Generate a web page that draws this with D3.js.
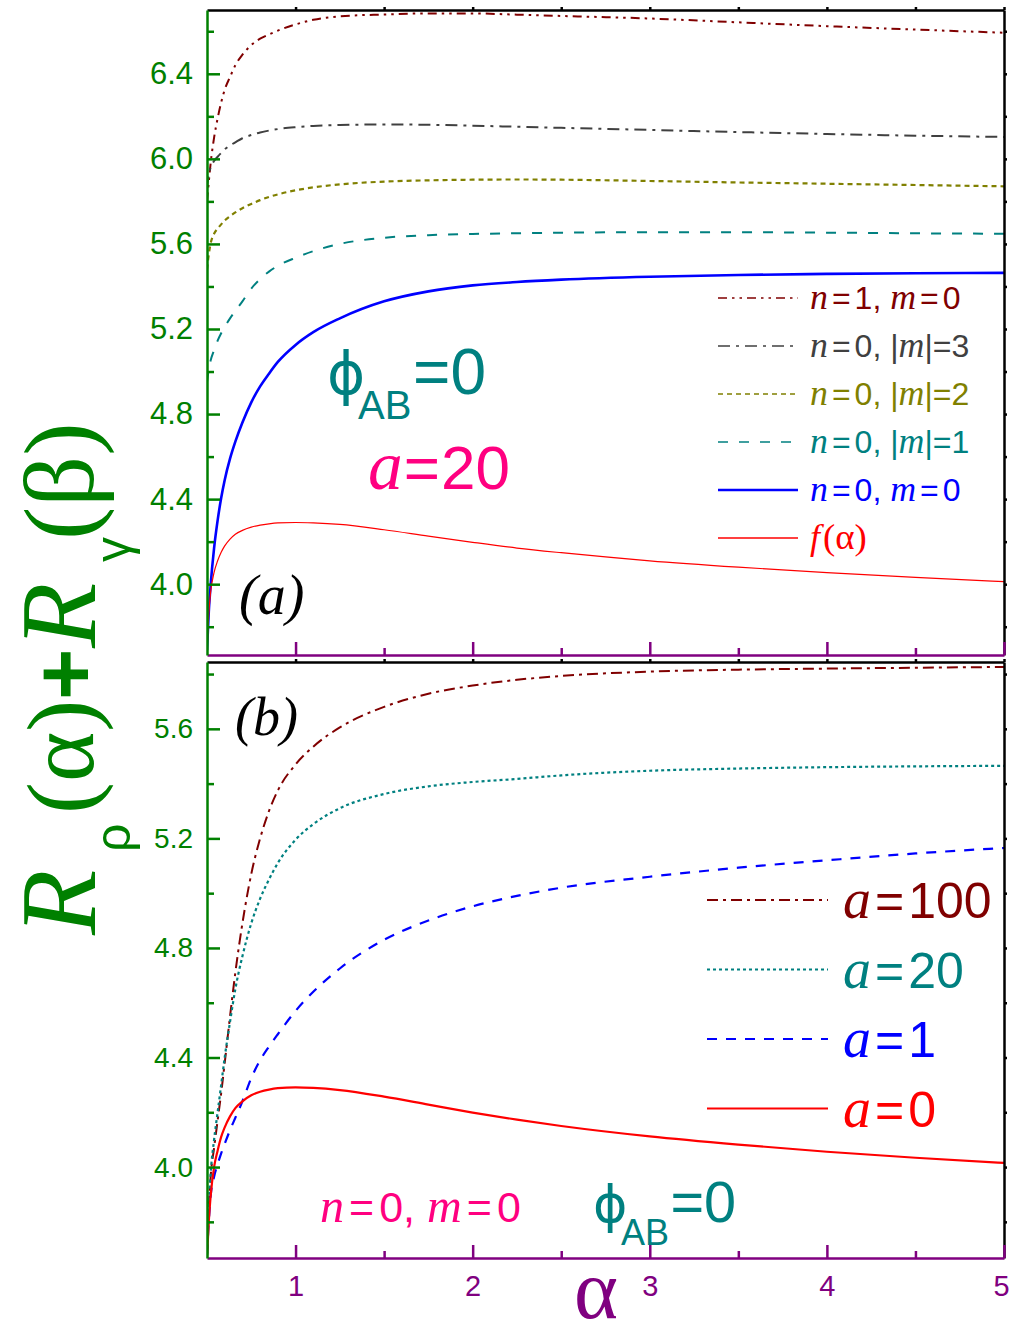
<!DOCTYPE html>
<html>
<head>
<meta charset="utf-8">
<script src="https://cdn.jsdelivr.net/npm/d3@7/dist/d3.min.js"></script>
<style>body{margin:0;background:#fff}</style>
</head>
<body>
<div id="canvas"></div>
<script>
"use strict"

const alphaGrid = [0.5, 0.51, 0.52, 0.54, 0.56, 0.58, 0.6, 0.63, 0.66, 0.7, 0.75, 0.8, 0.85, 0.9,
    1.0, 1.1, 1.25, 1.5, 1.75, 2.0, 2.25, 2.5, 3.0, 3.5, 4.0, 4.5, 5.0];

/* panel (a) */
const aN1M0 = [5.80, 5.89, 5.975, 6.10, 6.19, 6.265, 6.325, 6.385, 6.44, 6.49, 6.535, 6.565, 6.585, 6.603,
    6.632, 6.654, 6.670, 6.679, 6.684, 6.684, 6.678, 6.672, 6.66, 6.642, 6.624, 6.608, 6.593];
const aN0M3 = [5.86, 5.925, 5.958, 5.99, 6.01, 6.028, 6.045, 6.063, 6.078, 6.097, 6.112, 6.124, 6.133, 6.14,
    6.149, 6.155, 6.159, 6.162, 6.16, 6.156, 6.151, 6.146, 6.136, 6.126, 6.117, 6.109, 6.103];
const aN0M2 = [5.48, 5.55, 5.60, 5.648, 5.672, 5.692, 5.71, 5.73, 5.748, 5.768, 5.788, 5.806, 5.821, 5.833,
    5.852, 5.866, 5.88, 5.893, 5.899, 5.902, 5.903, 5.902, 5.896, 5.889, 5.883, 5.877, 5.871];
const aN0M1 = [4.95, 5.01, 5.05, 5.10, 5.145, 5.18, 5.21, 5.25, 5.285, 5.33, 5.39, 5.435, 5.47, 5.497,
    5.535, 5.566, 5.60, 5.629, 5.641, 5.647, 5.65, 5.653, 5.655, 5.655, 5.653, 5.65, 5.648];
const aN0M0 = [3.69, 3.87, 3.99, 4.17, 4.30, 4.405, 4.49, 4.59, 4.67, 4.76, 4.855, 4.93, 4.99, 5.045,
    5.125, 5.185, 5.25, 5.33, 5.377, 5.405, 5.421, 5.432, 5.446, 5.454, 5.459, 5.462, 5.464];
const aFAlpha = [3.67, 3.86, 3.96, 4.055, 4.11, 4.15, 4.18, 4.212, 4.235, 4.253, 4.268, 4.278, 4.284, 4.288,
    4.29, 4.288, 4.281, 4.256, 4.226, 4.197, 4.17, 4.148, 4.11, 4.08, 4.054, 4.032, 4.012];

/* panel (b) */
const bA100 = [3.68, 3.85, 3.96, 4.07, 4.17, 4.27, 4.38, 4.55, 4.71, 4.89, 5.07, 5.20, 5.30, 5.375,
    5.47, 5.535, 5.605, 5.68, 5.728, 5.758, 5.779, 5.793, 5.809, 5.816, 5.82, 5.823, 5.826];
const bA20 = [3.68, 3.85, 3.97, 4.10, 4.20, 4.30, 4.40, 4.53, 4.65, 4.77, 4.89, 4.98, 5.05, 5.11,
    5.195, 5.252, 5.31, 5.362, 5.39, 5.406, 5.417, 5.43, 5.447, 5.455, 5.46, 5.463, 5.465];
const bA1 = [3.68, 3.80, 3.89, 3.965, 4.01, 4.05, 4.085, 4.135, 4.18, 4.24, 4.325, 4.39, 4.44, 4.485,
    4.57, 4.64, 4.725, 4.83, 4.90, 4.952, 4.99, 5.02, 5.06, 5.093, 5.12, 5.145, 5.165];
const bA0 = [3.67, 3.80, 3.89, 4.00, 4.06, 4.11, 4.145, 4.185, 4.215, 4.24, 4.262, 4.275, 4.283, 4.288,
    4.291, 4.289, 4.281, 4.257, 4.228, 4.199, 4.173, 4.15, 4.112, 4.082, 4.056, 4.034, 4.015];

/* legend labels, *x* = italic math letter */
const legendA = ["*n*=1, *m*=0", "*n*=0, |*m*|=3", "*n*=0, |*m*|=2", "*n*=0, |*m*|=1", "*n*=0, *m*=0", "*f*(α)"];
const legendB = ["*a*=100", "*a*=20", "*a*=1", "*a*=0"];

/* ticks */
const xMajor = [1, 2, 3, 4, 5];
const xMinor = [1.5, 2.5, 3.5, 4.5];
const xTop = [1, 1.5, 2, 2.5, 3, 3.5, 4, 4.5, 5];
const yMajorA = [4.0, 4.4, 4.8, 5.2, 5.6, 6.0, 6.4];
const yMinorA = [3.8, 4.2, 4.6, 5.0, 5.4, 5.8, 6.2, 6.6];
const yMajorB = [4.0, 4.4, 4.8, 5.2, 5.6];
const yMinorB = [3.8, 4.2, 4.6, 5.0, 5.4, 5.8];

const green = "#008000";
const purple = "#800080";
const sans = "'Liberation Sans', Arial, sans-serif";
const serif = "'Liberation Serif', 'Times New Roman', serif";

let drawing = d3.select("#canvas")
    .append("svg")
    .attr("width", 1011)
    .attr("height", 1336)
    .style("font-family", sans);

let x = d3.scaleLinear().domain([0.5, 5]).range([207, 1004]);
let yA = d3.scaleLinear().domain([3.667, 6.70]).range([655, 10]);
let yB = d3.scaleLinear().domain([3.668, 5.844]).range([1258, 662]);

/* styles of the curves */
let stylesA = [
    {color: "#800000", dash: "9,5,2.5,5,2.5,5", width: 2},
    {color: "#404040", dash: "12,6,3,6", width: 2},
    {color: "#808000", dash: "5,4", width: 2.2},
    {color: "#008080", dash: "10,11", width: 2},
    {color: "#0000ff", dash: null, width: 2.6},
    {color: "#ff0000", dash: null, width: 1.2}
];
let stylesB = [
    {color: "#800000", dash: "11,5,3,5", width: 2},
    {color: "#008080", dash: "3,3", width: 2.2},
    {color: "#0000ff", dash: "10,9", width: 2.2},
    {color: "#ff0000", dash: null, width: 2.2}
];

function clip(id, y0, y1) {
    drawing.append("clipPath").attr("id", id)
        .append("rect").attr("x", 207).attr("y", y0)
        .attr("width", 1004 - 207).attr("height", y1 - y0);
}
clip("clipA", 10, 655);
clip("clipB", 662, 1258);

function drawCurves(yScale, seriesList, styles, clipId) {
    let g = drawing.append("g").attr("clip-path", "url(#" + clipId + ")");
    let line = d3.line()
        .x(d => x(d[0]))
        .y(d => yScale(d[1]))
        .curve(d3.curveMonotoneX);
    seriesList.forEach((vals, i) => {
        g.append("path")
            .attr("d", line(alphaGrid.map((a, j) => [a, vals[j]])))
            .attr("fill", "none")
            .attr("stroke", styles[i].color)
            .attr("stroke-width", styles[i].width)
            .attr("stroke-dasharray", styles[i].dash);
    });
}

drawCurves(yA, [aN1M0, aN0M3, aN0M2, aN0M1, aN0M0, aFAlpha], stylesA, "clipA");
drawCurves(yB, [bA100, bA20, bA1, bA0], stylesB, "clipB");

/* frame of one panel */
function drawFrame(yScale, yMajor, yMinor, top, bottom, labelSize, showX) {
    let allY = yMajor.concat(yMinor);

    // top (black, small outward ticks)
    let topAxis = drawing.append("g").attr("transform", "translate(0," + top + ")")
        .call(d3.axisTop(x).tickValues(xTop).tickSize(3).tickSizeOuter(0).tickFormat(""));
    topAxis.selectAll("path,line").attr("stroke", "#000").attr("stroke-width", 2.5);

    // right (black, small outward ticks)
    let rightAxis = drawing.append("g").attr("transform", "translate(1004,0)")
        .call(d3.axisRight(yScale).tickValues(allY).tickSize(3).tickSizeOuter(0).tickFormat(""));
    rightAxis.selectAll("path,line").attr("stroke", "#000").attr("stroke-width", 2.5);

    // bottom (purple, inward ticks)
    let bottomAxis = drawing.append("g").attr("transform", "translate(0," + bottom + ")")
        .call(d3.axisBottom(x).tickValues(xMajor).tickSize(-13).tickSizeOuter(0).tickPadding(17)
            .tickFormat(showX ? d3.format("d") : ""));
    bottomAxis.selectAll("path,line").attr("stroke", purple).attr("stroke-width", 2.5);
    bottomAxis.selectAll("text").attr("fill", purple).attr("font-size", 29).attr("font-family", sans);
    bottomAxis.selectAll("text").filter(d => d === 5).attr("dx", -3);
    let bottomMinor = drawing.append("g").attr("transform", "translate(0," + bottom + ")")
        .call(d3.axisBottom(x).tickValues(xMinor).tickSize(-7).tickFormat(""));
    bottomMinor.select(".domain").remove();
    bottomMinor.selectAll("line").attr("stroke", purple).attr("stroke-width", 2.5);

    // left (green, inward ticks)
    let leftAxis = drawing.append("g").attr("transform", "translate(207,0)")
        .call(d3.axisLeft(yScale).tickValues(yMajor).tickSize(-13).tickSizeOuter(0).tickPadding(14)
            .tickFormat(d3.format(".1f")));
    leftAxis.selectAll("path,line").attr("stroke", green).attr("stroke-width", 2.5);
    leftAxis.selectAll("text").attr("fill", green).attr("font-size", labelSize).attr("font-family", sans);
    let leftMinor = drawing.append("g").attr("transform", "translate(207,0)")
        .call(d3.axisLeft(yScale).tickValues(yMinor).tickSize(-7).tickFormat(""));
    leftMinor.select(".domain").remove();
    leftMinor.selectAll("line").attr("stroke", green).attr("stroke-width", 2.5);
}

drawFrame(yA, yMajorA, yMinorA, 10, 655, 31, false);
drawFrame(yB, yMajorB, yMinorB, 662, 1258, 28, true);

/* text with italic math letters marked by *...*; gap = extra room round "=" */
function richText(px, py, label, size, color, gap) {
    let t = drawing.append("text").attr("x", px).attr("y", py)
        .attr("fill", color).attr("font-size", size);
    label.split("*").forEach((part, i) => {
        if (part === "") return;
        if (i % 2 === 1) {
            t.append("tspan").text(part)
                .attr("font-family", serif).attr("font-style", "italic").attr("font-size", size * 1.12);
        } else if (part[0] === "=") {
            t.append("tspan").text("=").attr("font-family", sans).attr("dx", gap);
            t.append("tspan").text(part.slice(1)).attr("font-family", sans).attr("dx", gap);
        } else if (part[0] === "(") {
            t.append("tspan").text(part).attr("font-family", serif).attr("font-size", size * 1.15)
                .attr("dx", 3);
        } else {
            t.append("tspan").text(part).attr("font-family", sans);
        }
    });
    return t;
}

/* legend of panel (a) */
legendA.forEach((lab, i) => {
    let cy = 298 + i * 48;
    drawing.append("line")
        .attr("x1", 718).attr("x2", 798).attr("y1", cy).attr("y2", cy)
        .attr("stroke", stylesA[i].color)
        .attr("stroke-width", i === 4 ? 2.4 : 1.6)
        .attr("stroke-dasharray", stylesA[i].dash);
    richText(810, cy + 11, lab, 32, stylesA[i].color, 4);
});

/* legend of panel (b) */
legendB.forEach((lab, i) => {
    let cy = 900 + i * 69.5;
    drawing.append("line")
        .attr("x1", 707).attr("x2", 828).attr("y1", cy).attr("y2", cy)
        .attr("stroke", stylesB[i].color)
        .attr("stroke-width", 2)
        .attr("stroke-dasharray", stylesB[i].dash);
    richText(843, cy + 18, lab, 50, stylesB[i].color, 4);
});

/* annotations */
function phiAB(px, py, scale) {
    drawing.append("text").attr("x", px).attr("y", py)
        .attr("font-family", "'DejaVu Sans', sans-serif").attr("font-size", 58 * scale)
        .attr("fill", "#008080").text("\u03D5");
    drawing.append("text").attr("x", px + 31 * scale).attr("y", py + 25 * scale)
        .attr("font-size", 40 * scale).attr("fill", "#008080").text("AB");
    drawing.append("text").attr("x", px + 86 * scale).attr("y", py)
        .attr("font-size", 64 * scale).attr("fill", "#008080").text("=0");
}
phiAB(327, 394, 1);
phiAB(593, 1222, 0.9);

richText(368, 489, "*a*=20", 62, "#ff0080", 1);
richText(320, 1222, "*n*=0, *m*=0", 43, "#ff0080", 5);

drawing.append("text").attr("x", 239).attr("y", 614)
    .attr("font-family", serif).attr("font-style", "italic").attr("font-size", 56)
    .attr("fill", "#000").text("(a)");
drawing.append("text").attr("x", 235).attr("y", 735)
    .attr("font-family", serif).attr("font-style", "italic").attr("font-size", 54)
    .attr("fill", "#000").text("(b)");

/* x axis title */
drawing.append("text").attr("x", 596).attr("y", 1318)
    .attr("text-anchor", "middle")
    .attr("font-family", serif).attr("font-size", 84)
    .attr("fill", purple).text("α");

/* y axis title, built piece by piece along the rotated baseline */
let yTitle = [
    {t: "R", at: 935, base: 95, size: 107, font: serif, italic: true},
    {t: "ρ", at: 852, base: 130, size: 50, font: sans},
    {t: "(α)", at: 814, base: 93, size: 96, font: serif},
    {t: "+", at: 700, base: 95, size: 88, font: sans, bold: true},
    {t: "R", at: 648, base: 95, size: 107, font: serif, italic: true},
    {t: "γ", at: 562, base: 130, size: 50, font: sans},
    {t: "(β)", at: 540, base: 93, size: 100, font: serif}
];
yTitle.forEach(p => {
    drawing.append("text")
        .attr("transform", "translate(" + p.base + "," + p.at + ") rotate(-90)")
        .attr("font-family", p.font)
        .attr("font-style", p.italic ? "italic" : "normal")
        .attr("font-weight", p.bold ? "bold" : "normal")
        .attr("font-size", p.size)
        .attr("fill", green)
        .text(p.t);
});
</script>
</body>
</html>
